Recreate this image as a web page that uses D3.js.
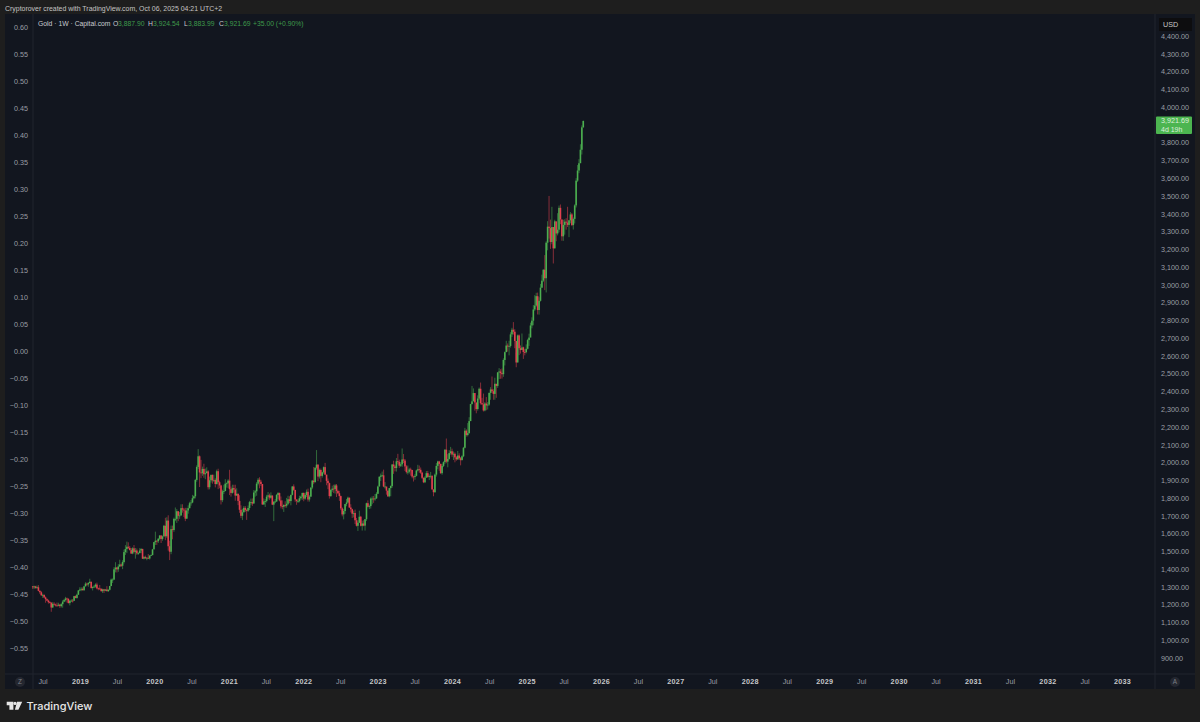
<!DOCTYPE html>
<html>
  <head>
    <meta charset="utf-8" />
    <script src="https://d3js.org/d3.v7.min.js"></script>
    <style>
      html, body { margin: 0; padding: 0; background: #1e1e1e; }
      svg { display: block; font-family: "Liberation Sans", Arial, sans-serif; }
    </style>
  </head>
  <body>
    <svg id="chart" width="1200" height="722"></svg>
    <script>
      // weekly closes, May 2018 -> Oct 2025
      const closes = [
        1298,1303,1294,1298,1278,1270,1253,1255,1241,1231,1223,1214,1212,1184,1205,1201,1196,1194,1200,1192,1203,1217,1226,1235,1232,1209,1222,1223,1222,1248,1238,1256,1280,
        1285,1289,1282,1303,1318,1314,1322,1329,1294,1299,1302,1313,1292,1291,1290,1276,1286,1279,1285,1276,1284,1305,1341,1341,1399,1409,1399,1415,1426,1419,1440,1496,1513,1526,1520,1507,1488,1517,1497,1505,1489,1490,1505,1514,1459,1468,1462,1464,1460,1476,1479,1511,
        1552,1560,1557,1571,1589,1570,1584,1644,1585,1673,1529,1498,1625,1620,1683,1683,1726,1700,1702,1743,1735,1730,1684,1730,1743,1771,1775,1799,1810,1902,1975,2035,1944,1940,1964,1934,1940,1950,1861,1900,1930,1899,1902,1879,1951,1889,1871,1788,1838,1839,1881,1883,
        1898,1850,1829,1856,1848,1814,1824,1784,1734,1700,1720,1745,1732,1729,1744,1777,1777,1769,1831,1838,1881,1903,1892,1879,1764,1781,1783,1808,1815,1802,1814,1763,1779,1781,1817,1828,1787,1754,1751,1761,1757,1768,1793,1783,1818,1865,1846,1792,1783,1783,1799,1808,1829,
        1797,1817,1835,1792,1808,1859,1898,1889,1970,1988,1921,1958,1925,1945,1974,1932,1897,1884,1811,1846,1853,1851,1871,1840,1827,1811,1742,1708,1727,1766,1775,1802,1747,1737,1712,1716,1675,1644,1661,1695,1644,1657,1645,1681,1771,1751,1755,1797,1797,1793,1798,1824,
        1865,1920,1926,1928,1865,1865,1842,1810,1856,1868,1989,1978,1969,2007,2004,1982,1990,2017,2011,1978,1946,1948,1961,1958,1921,1919,1925,1955,1962,1959,1943,1914,1889,1915,1940,1919,1924,1925,1849,1833,1932,1981,2006,1992,1940,1981,2002,2072,2005,2020,2053,2063,
        2045,2049,2029,2018,2039,2024,2013,2035,2083,2179,2155,2165,2233,2329,2344,2391,2338,2301,2360,2415,2334,2327,2293,2332,2321,2326,2392,2411,2401,2386,2443,2431,2507,2512,2503,2497,2577,2621,2658,2653,2656,2721,2747,2736,2684,2563,2715,2643,2633,2648,2622,2621,
        2640,2689,2703,2771,2798,2861,2883,2936,2858,2910,2984,3023,3085,3037,3237,3327,3319,3241,3325,3205,3357,3289,3310,3433,3368,3273,3337,3355,3350,3337,3363,3396,3336,3371,3447,3586,3643,3684,3760,3886,3921.69
      ];
      const highs = [
        1305,1307,1306,1308,1310,1281,1276,1262,1258,1246,1235,1228,1220,1212,1214,1214,1206,1212,1211,1205,1208,1225,1233,1244,1240,1237,1226,1231,1232,1250,1252,1262,1283,
        1298,1298,1297,1306,1326,1324,1327,1346,1329,1303,1311,1320,1324,1296,1311,1290,1290,1289,1288,1304,1286,1306,1347,1348,1411,1439,1413,1428,1453,1432,1450,1510,1535,1555,1551,1530,1519,1523,1536,1519,1516,1496,1518,1517,1514,1474,1476,1467,1485,1479,1483,1514,
        1553,1611,1561,1575,1592,1592,1589,1649,1689,1692,1703,1560,1645,1645,1690,1747,1738,1722,1722,1765,1765,1745,1745,1745,1759,1779,1789,1818,1815,1908,1984,2075,2040,2015,1977,1993,1966,1973,1957,1921,1933,1933,1932,1911,1960,1965,1898,1875,1847,1875,1906,1888,
        1906,1959,1865,1875,1875,1875,1855,1825,1816,1759,1740,1755,1755,1740,1758,1784,1797,1798,1845,1846,1890,1913,1917,1903,1877,1798,1794,1818,1834,1825,1832,1815,1782,1795,1823,1834,1831,1809,1787,1765,1782,1801,1813,1810,1819,1868,1877,1815,1793,1792,1813,1814,1830,
        1831,1828,1848,1853,1816,1860,1902,1975,1974,2070,1990,1966,1966,1948,1978,1998,1920,1910,1887,1849,1870,1875,1879,1879,1847,1841,1814,1748,1739,1767,1795,1808,1803,1765,1740,1729,1735,1688,1675,1729,1700,1673,1675,1682,1774,1787,1763,1804,1810,1812,1823,1833,
        1870,1922,1938,1949,1960,1890,1859,1841,1857,1871,1990,2010,1987,2025,2049,2016,2002,2079,2048,2020,1985,1983,1970,1971,1959,1926,1935,1960,1987,1983,1972,1948,1916,1923,1952,1953,1933,1947,1928,1835,1938,1997,2010,2010,1994,1993,2007,2075,2135,2047,2070,2088,
        2078,2062,2057,2036,2065,2052,2031,2041,2088,2195,2187,2222,2255,2330,2431,2417,2352,2326,2378,2422,2450,2364,2388,2340,2368,2340,2393,2424,2484,2412,2477,2441,2509,2531,2525,2529,2586,2625,2685,2670,2685,2733,2758,2790,2750,2618,2720,2721,2659,2726,2652,2638,
        2665,2696,2725,2787,2817,2886,2942,2955,2956,2930,3005,3057,3087,3167,3245,3358,3500,3367,3439,3265,3366,3330,3403,3446,3452,3365,3366,3369,3375,3439,3364,3409,3404,3379,3453,3600,3674,3707,3791,3897,3924.54
      ];
      const lows = [
        1288,1288,1290,1289,1275,1261,1250,1238,1237,1211,1220,1206,1207,1160,1183,1195,1190,1189,1191,1182,1184,1183,1214,1218,1212,1207,1196,1216,1212,1221,1236,1234,1256,
        1276,1276,1279,1277,1303,1306,1301,1319,1290,1280,1293,1296,1286,1281,1284,1274,1266,1266,1276,1275,1272,1280,1304,1322,1340,1382,1381,1385,1412,1412,1400,1432,1480,1490,1513,1506,1485,1484,1488,1459,1480,1480,1490,1490,1457,1455,1457,1450,1457,1454,1474,1478,
        1523,1536,1536,1547,1563,1547,1560,1584,1563,1576,1504,1451,1484,1568,1610,1670,1660,1670,1683,1702,1718,1693,1670,1684,1712,1742,1757,1771,1793,1798,1892,1963,1862,1912,1925,1914,1906,1940,1848,1849,1887,1881,1890,1860,1876,1850,1855,1764,1777,1823,1858,1859,
        1856,1817,1808,1825,1831,1785,1813,1760,1717,1687,1676,1719,1722,1677,1722,1732,1760,1756,1771,1808,1813,1871,1855,1868,1761,1762,1750,1775,1792,1790,1796,1760,1670,1771,1778,1795,1781,1742,1737,1722,1746,1746,1760,1771,1759,1815,1840,1779,1762,1772,1776,1791,1790,
        1782,1790,1806,1780,1780,1807,1850,1878,1889,1960,1895,1910,1889,1915,1937,1929,1872,1850,1797,1807,1835,1828,1825,1806,1822,1784,1732,1697,1680,1711,1754,1772,1744,1719,1688,1691,1654,1640,1615,1660,1640,1617,1641,1617,1671,1747,1738,1741,1765,1773,1785,1795,
        1823,1866,1896,1917,1861,1853,1819,1806,1804,1810,1858,1936,1950,1949,1990,1970,1975,1976,1997,1952,1938,1932,1938,1926,1911,1893,1903,1922,1950,1942,1936,1907,1884,1884,1913,1914,1901,1910,1846,1810,1830,1921,1962,1953,1936,1931,1975,1992,1996,1973,2016,2044,
        2032,2014,2001,2010,2015,2015,1984,2018,2030,2079,2146,2147,2163,2265,2326,2355,2292,2277,2292,2352,2326,2325,2287,2288,2294,2298,2319,2353,2391,2353,2353,2364,2420,2470,2471,2472,2482,2546,2639,2624,2603,2647,2707,2720,2643,2536,2563,2604,2613,2647,2583,2603,
        2614,2636,2656,2732,2755,2772,2853,2877,2833,2832,2906,2982,3016,2970,2957,3194,3260,3202,3228,3120,3205,3245,3278,3295,3341,3248,3247,3282,3310,3325,3268,3346,3330,3311,3345,3435,3578,3628,3722,3733,3883.99
      ];
      const firstOpen = 1303;

      const leftTicks = d3.range(-11, 13).map((k) => k * 0.05);
      // 3,900 sits under the last price label
      const rightTicks = d3.range(9, 45).filter((k) => k !== 39).map((k) => k * 100);
      const axisYears = d3.range(2019, 2034);
      const axisJuly = d3.range(2018, 2033);
      const legendParts = [
        ["Gold · 1W · Capital.com", "#c9cbd0", 38],
        ["O", "#c9cbd0", 113],
        ["3,887.90", "#3f9a4b", 118],
        ["H", "#c9cbd0", 148],
        ["3,924.54", "#3f9a4b", 153],
        ["L", "#c9cbd0", 184],
        ["3,883.99", "#3f9a4b", 188],
        ["C", "#c9cbd0", 219],
        ["3,921.69", "#3f9a4b", 224],
        ["+35.00 (+0.90%)", "#3f9a4b", 253],
      ];

      const weeks = d3.utcMonday.range(
        new Date(Date.UTC(2018, 4, 14)),
        new Date(Date.UTC(2025, 9, 7))
      );
      const bars = weeks.map((d, i) => ({
        date: d,
        open: i ? closes[i - 1] : firstOpen,
        close: closes[i],
        high: highs[i],
        low: lows[i],
      }));

      const svg = d3.select("#chart");

      // page + panel
      svg.append("rect").attr("width", 1200).attr("height", 722).attr("fill", "#1e1e1e");
      svg.append("rect").attr("x", 5).attr("y", 14).attr("width", 1190).attr("height", 675).attr("fill", "#12161f");
      svg.append("g").attr("stroke", "#20242e").selectAll("line")
        .data([[33, 14, 33, 689], [1155, 14, 1155, 689], [5, 674, 1195, 674]])
        .enter().append("line")
        .attr("x1", (d) => d[0]).attr("y1", (d) => d[1])
        .attr("x2", (d) => d[2]).attr("y2", (d) => d[3]);

      svg.append("text").attr("x", 5).attr("y", 11).attr("font-size", 6.95).attr("fill", "#c4c4c4")
        .text("Cryptorover created with TradingView.com, Oct 06, 2025 04:21 UTC+2");

      // scales
      const x = d3.scaleUtc()
        .domain([new Date(Date.UTC(2019, 0, 1)), new Date(Date.UTC(2033, 0, 1))])
        .range([80, 1122]);
      const yPrice = d3.scaleLinear().domain([900, 4400]).range([658, 36]);
      const yLeft = d3.scaleLinear().domain([-0.55, 0.6]).range([648, 27]);

      // axes
      const leftAxis = svg.append("g").attr("transform", "translate(28,0)")
        .call(d3.axisLeft(yLeft).tickValues(leftTicks).tickSize(0).tickPadding(0)
          .tickFormat((d) => d3.format(".2f")(Math.abs(d) < 1e-9 ? 0 : d).replace("-", "\u2212")));
      const rightAxis = svg.append("g").attr("transform", "translate(1161,0)")
        .call(d3.axisRight(yPrice).tickValues(rightTicks).tickSize(0).tickPadding(0)
          .tickFormat(d3.format(",.2f")));
      const timeAxis = svg.append("g").attr("transform", "translate(0,682)")
        .call(d3.axisBottom(x)
          .tickValues(axisJuly.map((yr) => new Date(Date.UTC(yr, 6, 1))))
          .tickSize(0).tickPadding(0).tickFormat(() => "Jul"));
      const yearAxis = svg.append("g").attr("transform", "translate(0,682)")
        .call(d3.axisBottom(x)
          .tickValues(axisYears.map((yr) => new Date(Date.UTC(yr, 0, 1))))
          .tickSize(0).tickPadding(0).tickFormat(d3.utcFormat("%Y")));

      [leftAxis, rightAxis, timeAxis, yearAxis].forEach((g) => {
        g.select(".domain").remove();
        g.attr("font-family", null).attr("font-size", 7.2);
        g.selectAll("text").attr("fill", "#9b9ea6");
      });
      timeAxis.selectAll("text").attr("dy", "0.32em");
      yearAxis.selectAll("text").attr("dy", "0.32em").attr("fill", "#c6c7ca").attr("font-weight", 700).attr("letter-spacing", 0.3);

      // candles
      const color = (d) => (d.close >= d.open ? "#4caf50" : "#e2404e");
      const candles = svg.append("g").style("filter", "blur(0.35px)");
      candles.selectAll("line").data(bars).enter().append("line")
        .attr("x1", (d) => x(d.date)).attr("x2", (d) => x(d.date))
        .attr("y1", (d) => yPrice(d.high)).attr("y2", (d) => yPrice(d.low))
        .attr("stroke", color).attr("stroke-width", 0.8).attr("stroke-opacity", 0.7);
      candles.selectAll("rect").data(bars).enter().append("rect")
        .attr("x", (d) => x(d.date) - 0.8).attr("width", 1.6)
        .attr("y", (d) => yPrice(Math.max(d.open, d.close)))
        .attr("height", (d) => Math.max(0.8, Math.abs(yPrice(d.open) - yPrice(d.close))))
        .attr("fill", color);

      // legend
      const legend = svg.append("text").attr("y", 26).attr("font-size", 6.8);
      legendParts.forEach((p) => {
        legend.append("tspan").attr("x", p[2]).attr("fill", p[1]).text(p[0]);
      });

      // USD box + last price label
      const lastBar = bars[bars.length - 1];
      const lastY = yPrice(lastBar.close);
      svg.append("rect").attr("x", 1159).attr("y", 18).attr("width", 33).attr("height", 13).attr("fill", "#0d0d0f");
      svg.append("text").attr("x", 1163).attr("y", 27).attr("font-size", 7.2).attr("fill", "#c8c8c8").text("USD");
      svg.append("rect").attr("x", 1156).attr("y", lastY - 4.5).attr("width", 36).attr("height", 17.5).attr("rx", 1).attr("fill", "#4cb550");
      svg.append("text").attr("x", 1161).attr("y", lastY + 2.4).attr("font-size", 7.2).attr("fill", "#dcefdc")
        .text(d3.format(",.2f")(lastBar.close));
      svg.append("text").attr("x", 1161).attr("y", lastY + 10.8).attr("font-size", 7).attr("fill", "#dcefdc").text("4d 19h");

      // Z and A buttons
      svg.append("g").selectAll("g").data([["Z", 20], ["A", 1175]]).enter().append("g")
        .each(function (d) {
          const g = d3.select(this);
          g.append("circle").attr("cx", d[1]).attr("cy", 682).attr("r", 5).attr("fill", "#242730");
          g.append("text").attr("x", d[1]).attr("y", 684.3).attr("text-anchor", "middle").attr("font-size", 6.4).attr("fill", "#7d8088").text(d[0]);
        });

      // footer logo
      svg.append("path").attr("fill", "#e6e6e6")
        .attr("d", "M6.7 701.8H13.4V709.8H9.4V705.2H6.7Z M17 701.8H22.2L18.4 709.8H14.9Z");
      svg.append("circle").attr("cx", 15).attr("cy", 703.4).attr("r", 1.6).attr("fill", "#e6e6e6");
      svg.append("text").attr("x", 26.5).attr("y", 709.8).attr("font-family", "Inter").attr("font-size", 11).attr("font-weight", 500).attr("fill", "#e6e6e6").text("TradingView");
    </script>
  </body>
</html>
